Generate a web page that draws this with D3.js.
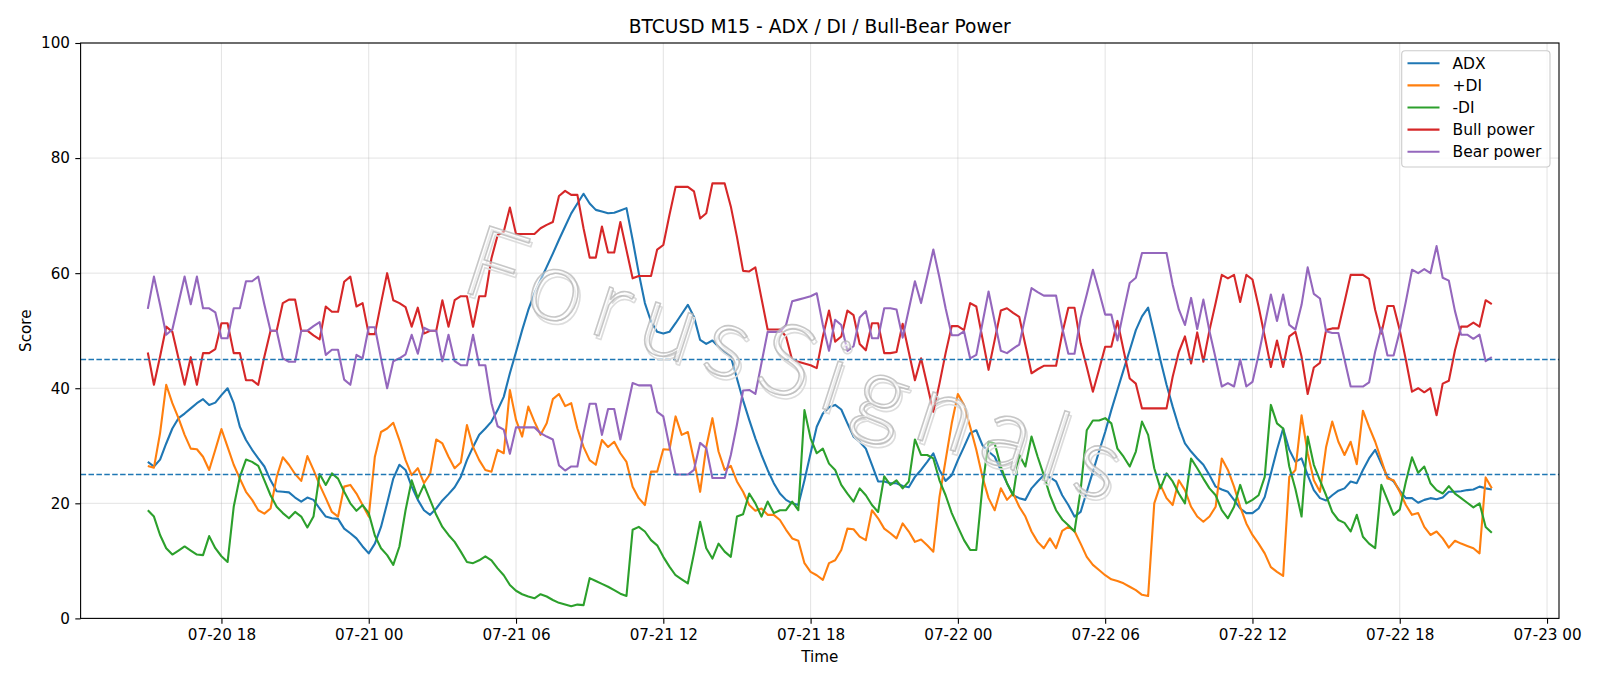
<!DOCTYPE html>
<html>
<head>
<meta charset="utf-8">
<script src="https://cdn.jsdelivr.net/npm/d3@7"></script>
<style>
  body { margin: 0; background: #fff; }
  svg { display: block; font-family: "DejaVu Sans", sans-serif; }
</style>
</head>
<body>
<div id="chart"></div>
<script>
// values, one per 15 min bar
const adx = [
  27.2, 26.4, 27.6, 30.4, 33.0, 34.8, 35.6, 36.5, 37.4, 38.1,
  37.1, 37.5, 38.8, 40.0, 37.4, 33.3, 31.0, 29.3, 27.8, 26.4,
  24.0, 22.1, 22.0, 21.9, 21.0, 20.3, 21.0, 20.6, 19.1, 17.7,
  17.4, 17.3, 15.6, 14.8, 13.9, 12.5, 11.3, 13.0,
  15.9, 20.0, 24.3, 26.7, 25.8, 22.9, 20.6, 18.8, 18.0, 19.1,
  20.5, 21.6, 22.8, 24.6, 27.5, 29.8, 31.9, 33.0, 34.2, 36.2,
  38.5, 42.6, 46.3, 50.1, 53.6, 56.5, 58.8, 61.1, 63.4, 65.8,
  68.1, 70.4, 72.1, 73.8, 72.1, 71.0,
  70.7, 70.4, 70.5, 70.9, 71.3, 65.8, 60.0, 54.8, 51.6, 49.8,
  49.5, 49.8, 51.3, 52.9, 54.5, 52.4, 48.4, 47.7, 48.3, 47.2,
  46.2, 45.5, 41.7, 37.9, 34.5, 31.3, 28.4, 25.8, 23.5, 21.7,
  20.6, 20.0, 19.7, 24.0, 28.7, 33.3, 35.6, 36.7,
  37.1, 36.3, 33.9, 31.6, 30.7, 29.5, 26.7, 23.8, 23.8, 23.5,
  23.5, 23.0, 22.8, 24.6, 25.8, 27.2, 28.7, 25.8, 23.9, 24.9,
  27.5, 29.8, 32.2, 32.7, 30.1, 29.0, 28.1, 25.8, 23.5, 21.4,
  20.9, 20.6, 22.6, 23.8, 24.9, 24.5, 23.8,
  21.4, 19.7, 17.7, 18.5, 22.0, 25.5, 29.0, 32.4, 36.2, 39.7,
  43.2, 46.6, 50.1, 52.5, 54.0, 49.5, 44.9, 40.6, 36.8, 33.3,
  30.4, 29.0, 27.8, 26.7, 24.9, 22.9, 22.4, 22.0, 20.6, 19.1,
  18.3, 18.3, 19.1, 21.1, 25.2, 29.3, 33.0, 29.3,
  27.2, 27.8, 24.9, 22.3, 20.9, 20.5, 21.4, 22.2, 22.6, 23.8,
  23.5, 25.8, 27.8, 29.3, 26.9, 24.6, 23.8, 22.2, 20.9, 20.9,
  20.1, 20.6, 20.9, 20.7, 21.0, 22.0, 22.0, 22.1, 22.3, 22.4,
  22.9, 22.6, 22.4
];

const plusDI = [
  26.5, 26.2, 32.2, 40.6, 37.4, 34.8, 31.9, 29.5, 29.4, 28.1,
  25.8, 29.3, 32.9, 29.8, 26.7, 24.3, 22.0, 20.6, 18.8, 18.2,
  19.1, 24.6, 28.0, 26.7, 25.1, 23.9, 28.2, 25.8, 23.2, 20.9,
  18.5, 17.7, 22.9, 23.2, 21.7, 19.7, 17.7, 28.1,
  32.4, 33.0, 34.0, 31.0, 27.5, 24.9, 26.1, 23.5, 25.1, 31.1,
  30.4, 28.1, 26.1, 27.1, 33.6, 29.8, 27.5, 25.8, 25.5, 29.3,
  28.7, 39.7, 34.5, 31.6, 36.8, 34.2, 31.9, 33.9, 38.1, 39.0,
  36.9, 37.4, 33.0, 29.8, 27.5, 26.7,
  31.0, 29.8, 30.7, 28.7, 27.2, 22.9, 20.9, 19.7, 25.5, 25.5,
  29.4, 29.3, 35.1, 31.9, 32.4, 27.5, 22.0, 29.8, 34.8, 29.0,
  25.8, 26.5, 23.8, 22.0, 19.7, 18.7, 19.1, 18.0, 18.0, 17.1,
  15.4, 13.9, 13.5, 9.6, 8.1, 7.5, 6.7, 9.6,
  10.1, 11.9, 15.6, 15.5, 14.2, 13.6, 18.8, 17.4, 15.6, 14.8,
  13.9, 16.5, 15.1, 13.3, 13.7, 12.7, 11.6, 21.1, 27.5, 33.9,
  39.0, 37.1, 33.3, 29.3, 24.6, 20.9, 18.8, 22.6, 20.6, 21.7,
  19.4, 17.7, 15.1, 13.3, 12.2, 13.9, 12.2,
  15.2, 15.9, 15.2, 13.0, 10.7, 9.3, 8.4, 7.5, 6.8, 6.5,
  6.1, 5.5, 4.9, 4.1, 3.9, 20.0, 23.2, 20.9, 19.7, 24.0,
  22.3, 19.4, 17.7, 16.8, 17.7, 19.4, 27.8, 25.8, 22.9, 19.4,
  16.5, 14.5, 13.0, 11.3, 8.9, 8.1, 7.4, 24.6,
  25.8, 35.3, 28.7, 24.0, 22.0, 29.8, 34.2, 30.7, 28.4, 30.7,
  26.8, 36.1, 33.3, 30.7, 27.5, 24.3, 24.0, 22.0, 19.7, 18.0,
  18.3, 15.9, 14.5, 15.1, 13.9, 12.3, 13.5, 13.0, 12.6, 12.2,
  11.3, 24.5, 22.6
];

const minusDI = [
  18.8, 17.7, 14.5, 12.2, 11.1, 11.8, 12.5, 11.8, 11.1, 11.0,
  14.3, 12.2, 10.8, 9.8, 19.4, 24.6, 27.6, 27.2, 26.5, 24.0,
  21.4, 19.4, 18.3, 17.4, 18.5, 17.7, 15.8, 17.7, 25.1, 23.2,
  25.2, 24.3, 22.0, 20.0, 18.7, 19.7, 18.3, 14.4,
  12.2, 11.0, 9.3, 12.5, 18.8, 24.0, 20.9, 23.2, 20.6, 18.0,
  15.9, 14.5, 13.3, 11.6, 9.8, 9.6, 10.1, 10.8, 10.1, 8.7,
  7.5, 5.8, 4.8, 4.2, 3.8, 3.5, 4.2, 3.8, 3.2, 2.7,
  2.4, 2.1, 2.4, 2.3, 7.0, 6.5,
  6.0, 5.5, 4.9, 4.3, 3.9, 15.4, 15.9, 15.1, 13.6, 12.7,
  10.7, 9.0, 7.5, 6.8, 6.1, 11.3, 16.8, 12.2, 10.4, 13.0,
  11.6, 10.7, 17.7, 18.1, 21.7, 20.0, 17.7, 20.3, 18.3, 18.8,
  18.8, 20.3, 18.8, 36.2, 31.3, 28.7, 29.5, 26.9,
  25.8, 23.2, 21.7, 20.3, 22.6, 21.4, 19.7, 18.5, 24.7, 23.2,
  24.0, 22.6, 23.8, 31.1, 28.4, 28.4, 27.8, 24.0, 21.4, 18.3,
  15.9, 13.6, 11.9, 11.9, 22.9, 30.7, 30.4, 26.4, 23.5, 21.4,
  28.4, 26.4, 31.6, 28.1, 24.9, 21.4, 18.8,
  17.2, 16.2, 15.1, 22.3, 32.7, 34.4, 34.4, 34.8, 33.9, 29.5,
  28.1, 26.4, 29.0, 34.2, 31.9, 26.1, 22.6, 25.2, 23.8, 21.7,
  20.0, 27.8, 26.1, 24.3, 22.6, 21.4, 18.8, 17.4, 19.4, 23.2,
  20.0, 20.6, 21.4, 24.6, 37.1, 33.9, 33.0, 26.4,
  22.5, 17.7, 31.6, 26.7, 24.0, 21.4, 18.5, 17.1, 16.6, 15.1,
  18.0, 14.2, 13.0, 12.2, 23.2, 20.6, 18.0, 18.9, 23.8, 28.0,
  25.3, 26.4, 23.5, 22.3, 21.7, 23.0, 21.7, 20.9, 20.1, 19.3,
  20.0, 15.9, 14.9
];

const bullPower = [
  46.2, 40.6, 45.5, 50.7, 49.8, 45.2, 40.6, 45.4, 40.6, 46.1,
  46.1, 46.8, 51.3, 51.3, 46.1, 46.1, 41.4, 41.4, 40.6, 45.5,
  50.0, 50.0, 54.8, 55.4, 55.4, 50.0, 50.0, 49.2, 48.5, 54.2,
  53.3, 53.3, 58.5, 59.4, 54.2, 54.8, 49.4, 49.4,
  54.8, 60.0, 55.3, 54.8, 54.1, 50.7, 54.0, 49.5, 50.0, 50.0,
  55.3, 50.7, 55.3, 56.0, 56.0, 50.7, 56.0, 56.0, 62.6, 66.6,
  67.2, 71.4, 66.8, 66.8, 66.8, 66.8, 67.8, 68.4, 68.9, 73.4,
  74.3, 73.6, 73.6, 67.8, 62.7, 62.7,
  68.1, 63.6, 63.6, 68.9, 64.0, 59.1, 59.5, 59.5, 59.5, 64.1,
  64.9, 70.1, 75.0, 75.0, 75.0, 74.2, 69.5, 70.4, 75.6, 75.6,
  75.6, 71.6, 66.3, 60.4, 60.3, 61.0, 55.6, 50.2, 50.2, 50.2,
  49.0, 44.9, 44.6, 44.3, 44.0, 43.5, 49.0, 53.5,
  48.1, 49.0, 53.5, 52.7, 47.7, 46.6, 51.3, 51.3, 46.1, 46.1,
  46.3, 51.2, 46.3, 41.4, 45.2, 40.6, 35.9, 40.8, 46.1, 50.8,
  50.8, 50.1, 54.8, 54.2, 48.7, 43.2, 48.4, 53.5, 53.9, 53.1,
  52.4, 47.5, 42.6, 43.3, 43.9, 43.9, 43.9,
  49.5, 54.0, 54.0, 47.8, 43.7, 39.4, 43.2, 47.2, 47.2, 51.7,
  46.6, 41.7, 40.8, 36.5, 36.5, 36.5, 36.5, 36.5, 42.0, 46.3,
  49.0, 44.3, 49.7, 44.6, 50.1, 54.8, 59.7, 59.1, 59.7, 55.0,
  59.7, 58.9, 54.2, 49.0, 43.7, 48.3, 43.7, 49.0,
  49.8, 45.5, 39.0, 43.6, 44.4, 50.1, 50.4, 50.4, 55.0, 59.7,
  59.7, 59.7, 59.0, 53.6, 49.5, 54.3, 54.3, 50.1, 44.9, 39.4,
  40.0, 39.3, 40.0, 35.3, 40.8, 41.3, 46.6, 50.7, 50.7, 51.4,
  50.7, 55.3, 54.6
];

const bearPower = [
  53.8, 59.4, 54.5, 49.3, 50.2, 54.8, 59.4, 54.6, 59.4, 53.9,
  53.9, 53.2, 48.7, 48.7, 53.9, 53.9, 58.6, 58.6, 59.4, 54.5,
  50.0, 50.0, 45.2, 44.6, 44.6, 50.0, 50.0, 50.8, 51.5, 45.8,
  46.7, 46.7, 41.5, 40.6, 45.8, 45.2, 50.6, 50.6,
  45.2, 40.0, 44.7, 45.2, 45.9, 49.3, 46.0, 50.5, 50.0, 50.0,
  44.7, 49.3, 44.7, 44.0, 44.0, 49.3, 44.0, 44.0, 37.4, 33.4,
  32.8, 28.6, 33.2, 33.2, 33.2, 33.2, 32.2, 31.6, 31.1, 26.6,
  25.7, 26.4, 26.4, 32.2, 37.3, 37.3,
  31.9, 36.4, 36.4, 31.1, 36.0, 40.9, 40.5, 40.5, 40.5, 35.9,
  35.1, 29.9, 25.0, 25.0, 25.0, 25.8, 30.5, 29.6, 24.4, 24.4,
  24.4, 28.4, 33.7, 39.6, 39.7, 39.0, 44.4, 49.8, 49.8, 49.8,
  51.0, 55.1, 55.4, 55.7, 56.0, 56.5, 51.0, 46.5,
  51.9, 51.0, 46.5, 47.3, 52.3, 53.4, 48.7, 48.7, 53.9, 53.9,
  53.7, 48.8, 53.7, 58.6, 54.8, 59.4, 64.1, 59.2, 53.9, 49.2,
  49.2, 49.9, 45.2, 45.8, 51.3, 56.8, 51.6, 46.5, 46.1, 46.9,
  47.6, 52.5, 57.4, 56.7, 56.1, 56.1, 56.1,
  50.5, 46.0, 46.0, 52.2, 56.3, 60.6, 56.8, 52.8, 52.8, 48.3,
  53.4, 58.3, 59.2, 63.5, 63.5, 63.5, 63.5, 63.5, 58.0, 53.7,
  51.0, 55.7, 50.3, 55.4, 49.9, 45.2, 40.3, 40.9, 40.3, 45.0,
  40.3, 41.1, 45.8, 51.0, 56.3, 51.7, 56.3, 51.0,
  50.2, 54.5, 61.0, 56.4, 55.6, 49.9, 49.6, 49.6, 45.0, 40.3,
  40.3, 40.3, 41.0, 46.4, 50.5, 45.7, 45.7, 49.9, 55.1, 60.6,
  60.0, 60.7, 60.0, 64.7, 59.2, 58.7, 53.4, 49.3, 49.3, 48.6,
  49.3, 44.7, 45.4
];

const seriesNames = ["ADX", "+DI", "-DI", "Bull power", "Bear power"];
const seriesColors = ["#1f77b4", "#ff7f0e", "#2ca02c", "#d62728", "#9467bd"];
const yTicks = [0, 20, 40, 60, 80, 100];
const refLevels = [45, 25];

// bars start 2025-07-20 15:00, every 15 minutes
const startTime = Date.UTC(2025, 6, 20, 15, 0);
const stepMs = 15 * 60 * 1000;

const width = 1600, height = 686;
const plotLeft = 80.6, plotRight = 1559, plotTop = 43, plotBottom = 618.4;

const allSeries = [adx, plusDI, minusDI, bullPower, bearPower];
const n = adx.length;
const timeOf = i => new Date(startTime + i * stepMs);

const t0 = startTime, t1 = startTime + (n - 1) * stepMs;
const pad = (t1 - t0) * 0.05;

const x = d3.scaleUtc()
  .domain([new Date(t0 - pad), new Date(t1 + pad)])
  .range([plotLeft, plotRight]);

const y = d3.scaleLinear()
  .domain([0, 100])
  .range([plotBottom, plotTop]);

const svg = d3.select("#chart").append("svg")
  .attr("width", width)
  .attr("height", height);

const xTicks = d3.utcHour.every(6).range(x.domain()[0], x.domain()[1]);

// grid
svg.append("g")
  .selectAll("line")
  .data(xTicks)
  .join("line")
  .attr("x1", d => x(d)).attr("x2", d => x(d))
  .attr("y1", plotTop).attr("y2", plotBottom)
  .attr("stroke", "#b0b0b0").attr("stroke-opacity", 0.35).attr("stroke-width", 1);

svg.append("g")
  .selectAll("line")
  .data(yTicks)
  .join("line")
  .attr("x1", plotLeft).attr("x2", plotRight)
  .attr("y1", d => y(d)).attr("y2", d => y(d))
  .attr("stroke", "#b0b0b0").attr("stroke-opacity", 0.35).attr("stroke-width", 1);

// series
const line = d3.line()
  .x((d, i) => x(timeOf(i)))
  .y(d => y(d));

svg.append("g")
  .selectAll("path")
  .data(allSeries)
  .join("path")
  .attr("d", line)
  .attr("fill", "none")
  .attr("stroke", (d, i) => seriesColors[i])
  .attr("stroke-width", 2.1)
  .attr("stroke-linejoin", "round");

// reference levels
svg.append("g")
  .selectAll("line")
  .data(refLevels)
  .join("line")
  .attr("x1", plotLeft).attr("x2", plotRight)
  .attr("y1", d => y(d)).attr("y2", d => y(d))
  .attr("stroke", "#1f77b4")
  .attr("stroke-width", 1.5)
  .attr("stroke-dasharray", "5.5,2.4");

// watermark
const wm = svg.append("g")
  .attr("transform", "translate(458,290) rotate(18)")
  .style("pointer-events", "none");
wm.append("text")
  .attr("x", 3).attr("y", 3)
  .attr("textLength", 684).attr("lengthAdjust", "spacing")
  .attr("font-size", 100).attr("font-family", "Lato, 'DejaVu Sans', sans-serif")
  .attr("font-weight", 300)
  .attr("fill", "none").attr("stroke", "#dcdcdc").attr("stroke-width", 1.6)
  .text("ForusSignals");
wm.append("text")
  .attr("textLength", 684).attr("lengthAdjust", "spacing")
  .attr("font-size", 100).attr("font-family", "Lato, 'DejaVu Sans', sans-serif")
  .attr("font-weight", 300)
  .attr("fill", "#fff").attr("fill-opacity", 0.45)
  .attr("stroke", "#b4b4b4").attr("stroke-opacity", 0.75).attr("stroke-width", 1.6)
  .text("ForusSignals");

// axes
const xAxis = svg.append("g")
  .attr("transform", `translate(0,${plotBottom})`)
  .call(d3.axisBottom(x).tickValues(xTicks).tickFormat(d3.utcFormat("%m-%d %H"))
    .tickSize(5.3).tickPadding(5.3));
const yAxis = svg.append("g")
  .attr("transform", `translate(${plotLeft},0)`)
  .call(d3.axisLeft(y).tickValues(yTicks).tickFormat(d3.format("d"))
    .tickSize(5.3).tickPadding(5.3));

[xAxis, yAxis].forEach(g => {
  g.select(".domain").remove();
  g.selectAll(".tick line").attr("stroke", "#000").attr("stroke-width", 1.1);
  g.selectAll(".tick text")
    .attr("fill", "#000")
    .style("font-size", "15.2px")
    .style("font-family", "'DejaVu Sans', sans-serif");
});

// frame
svg.append("rect")
  .attr("x", plotLeft).attr("y", plotTop)
  .attr("width", plotRight - plotLeft).attr("height", plotBottom - plotTop)
  .attr("fill", "none").attr("stroke", "#000").attr("stroke-width", 1.1);

// labels
svg.append("text")
  .attr("x", (plotLeft + plotRight) / 2).attr("y", 33)
  .attr("text-anchor", "middle")
  .style("font-size", "18.6px")
  .text("BTCUSD M15 - ADX / DI / Bull-Bear Power");

svg.append("text")
  .attr("x", (plotLeft + plotRight) / 2).attr("y", 661.5)
  .attr("text-anchor", "middle")
  .style("font-size", "15.2px")
  .text("Time");

svg.append("text")
  .attr("transform", `translate(25.5,${(plotTop + plotBottom) / 2}) rotate(-90)`)
  .attr("text-anchor", "middle")
  .attr("dy", "0.35em")
  .style("font-size", "15.2px")
  .text("Score");

// legend
const legend = svg.append("g");
legend.append("rect")
  .attr("x", 1401.7).attr("y", 50.7)
  .attr("width", 148.3).attr("height", 116.3)
  .attr("rx", 3.5)
  .attr("fill", "#fff").attr("fill-opacity", 0.8)
  .attr("stroke", "#cccccc").attr("stroke-width", 1.1);

const rows = legend.selectAll("g.row")
  .data(seriesNames)
  .join("g")
  .attr("class", "row")
  .attr("transform", (d, i) => `translate(0,${63.3 + i * 22.1})`);

rows.append("line")
  .attr("x1", 1407.5).attr("x2", 1439.5)
  .attr("stroke", (d, i) => seriesColors[i])
  .attr("stroke-width", 2.1);

rows.append("text")
  .attr("x", 1452.5)
  .attr("dy", "0.35em")
  .style("font-size", "15.5px")
  .text(d => d);
</script>
</body>
</html>
